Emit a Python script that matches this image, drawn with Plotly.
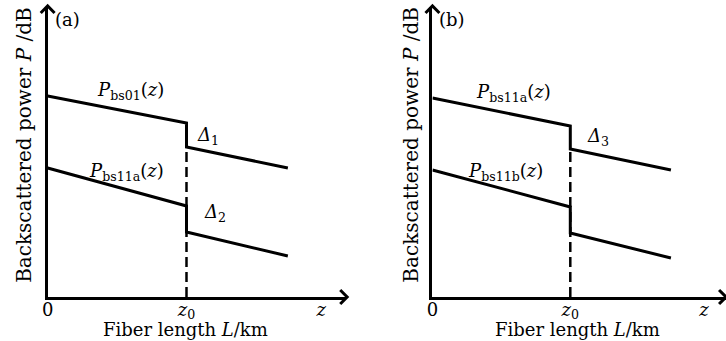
import plotly.graph_objects as go

# ---- data (arbitrary units) ----
z_pts = [0, 1, 1, 1.73]             # fiber position, z0 = 1
upper_a = [2.01, 1.74, 1.50, 1.29]  # P_bs01(z)
lower_a = [1.29, 0.91, 0.65, 0.41]  # P_bs11a(z)
upper_b = [1.99, 1.71, 1.48, 1.27]  # P_bs11a(z)
lower_b = [1.27, 0.90, 0.64, 0.39]  # P_bs11b(z)
z0 = 1
tick_vals = [0, 1, 1.97]
tick_text = ["0", "<i>z</i><sub>0</sub>", "<i>z</i>"]
x_title = "Fiber length <i>L</i>/km"
y_title = "Backscattered power <i>P</i> /dB"

FONT = "DejaVu Serif"
FS = 18
W, H = 726, 341

fig = go.Figure()

def add_panel(xa, ya, upper, lower):
    line = dict(color="black", width=3)
    fig.add_trace(go.Scatter(x=[z0, z0], y=[0, upper[2]], mode="lines",
                             line=dict(color="black", width=2.5, dash="10px,5px"),
                             xaxis=xa, yaxis=ya, showlegend=False, hoverinfo="skip"))
    fig.add_trace(go.Scatter(x=z_pts, y=upper, mode="lines", line=line,
                             xaxis=xa, yaxis=ya, showlegend=False))
    fig.add_trace(go.Scatter(x=z_pts, y=lower, mode="lines", line=line,
                             xaxis=xa, yaxis=ya, showlegend=False))

add_panel("x", "y", upper_a, lower_a)
add_panel("x2", "y2", upper_b, lower_b)

y_dom = [(H - 297) / H, (H - 7) / H]
y_rng = [0, (297 - 7) / 100]

ax_common = dict(showgrid=False, zeroline=False, showline=True, linecolor="black",
                 linewidth=3, ticks="", fixedrange=True)

fig.update_layout(
    width=W, height=H, margin=dict(l=0, r=0, t=0, b=0),
    paper_bgcolor="white", plot_bgcolor="white",
    font=dict(family=FONT, size=FS, color="black"),
    xaxis=dict(domain=[42 / W, 343 / W], range=[0, (343 - 42) / 140],
               tickvals=tick_vals, ticktext=tick_text, tickfont=dict(size=FS),
               ticklabelstandoff=-6, anchor="y", **ax_common),
    yaxis=dict(domain=y_dom, range=y_rng, showticklabels=False, anchor="x", **ax_common),
    xaxis2=dict(domain=[430 / W, 1.0], range=[0, (726 - 430) / 139],
                tickvals=tick_vals, ticktext=tick_text, tickfont=dict(size=FS),
                ticklabelstandoff=-6, anchor="y2", **ax_common),
    yaxis2=dict(domain=y_dom, range=y_rng, showticklabels=False, anchor="x2", **ax_common),
)

# helpers in pixel space of the page
px_x = lambda p: p / W
px_y = lambda p: 1 - p / H

def chevron(pts, color="black"):
    path = "M " + " L ".join(f"{px_x(a):.5f},{px_y(b):.5f}" for a, b in pts)
    fig.add_shape(type="path", path=path, xref="paper", yref="paper",
                  line=dict(color=color, width=3), layer="above")

A = 7
chevron([(344 - A, 297 - A), (344, 297), (344 - A, 297 + A)])
chevron([(42 - A, 6 + A), (42, 6), (42 + A, 6 + A)])
chevron([(726 - A, 297 - A), (726, 297), (726 - A, 297 + A)])
chevron([(430 - A, 6 + A), (430, 6), (430 + A, 6 + A)])

def label(x, y, text, size=FS, angle=0):
    fig.add_annotation(xref="paper", yref="paper", x=px_x(x), y=px_y(y), text=text,
                       showarrow=False, xanchor="center", yanchor="middle",
                       textangle=angle, font=dict(size=size))

# panel (a)
label(62, 20, "(a)")
label(126, 91, "<i>P</i><sub>bs01</sub>(<i>z</i>)")
label(204, 136, "<i>Δ</i><sub>1</sub>")
label(122, 172, "<i>P</i><sub>bs11a</sub>(<i>z</i>)")
label(211, 213, "<i>Δ</i><sub>2</sub>")
label(181, 329, x_title)
label(18, 145, y_title, size=20, angle=-90)
# panel (b)
label(450, 20, "(b)")
label(512, 93, "<i>P</i><sub>bs11a</sub>(<i>z</i>)")
label(597, 137, "<i>Δ</i><sub>3</sub>")
label(504, 172, "<i>P</i><sub>bs11b</sub>(<i>z</i>)")
label(576, 329, x_title)
label(408, 145, y_title, size=20, angle=-90)

fig.write_html("out.html", config={"displayModeBar": False},
               post_script="document.body.style.margin='0px';document.body.style.overflow='hidden';")
